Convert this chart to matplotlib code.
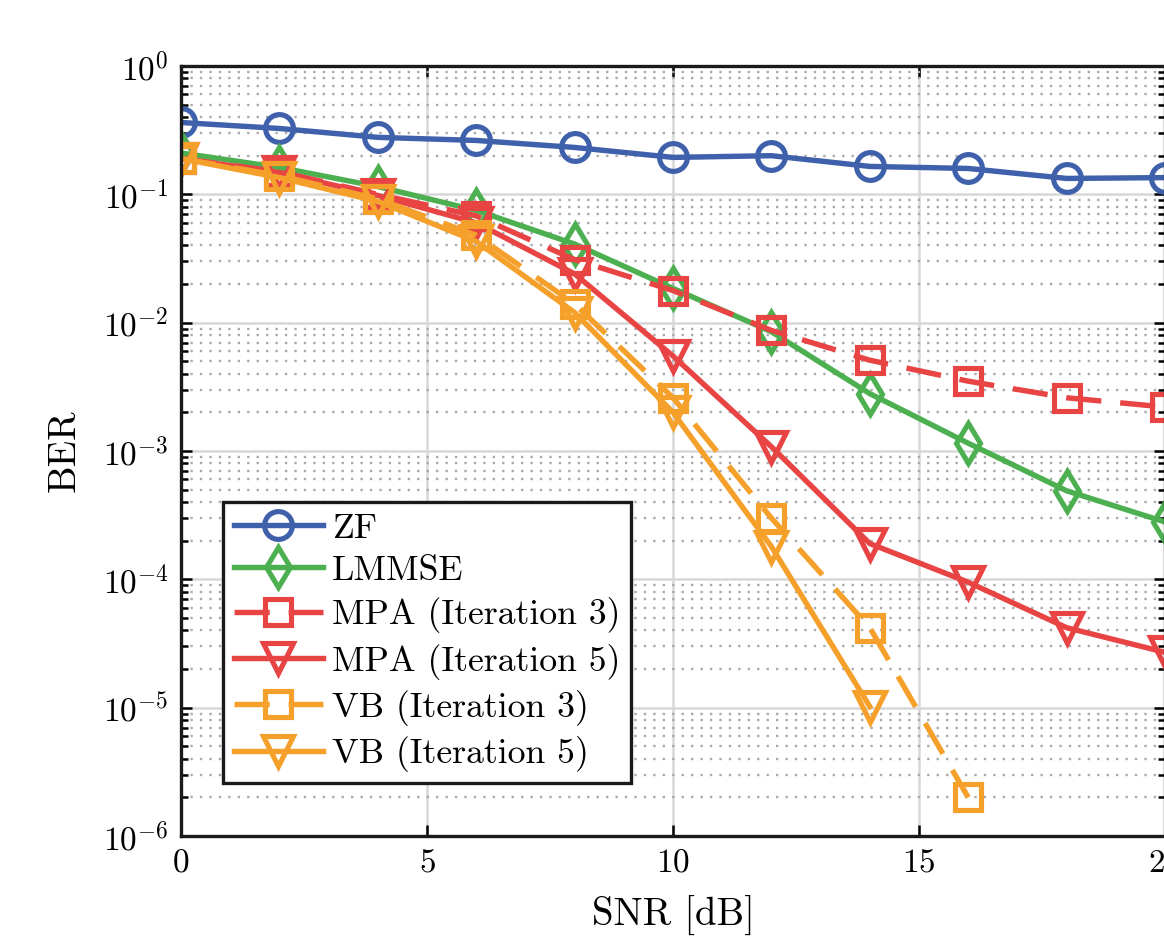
import numpy as np
import matplotlib
matplotlib.use('Agg')
import matplotlib.pyplot as plt
from matplotlib.ticker import LogLocator, NullFormatter, FixedLocator, FixedFormatter

plt.rcParams['mathtext.fontset'] = 'cm'
plt.rcParams['font.family'] = ['cmr10', 'DejaVu Serif']
plt.rcParams['axes.unicode_minus'] = False

# ---------------- data ----------------
snr = [0, 2, 4, 6, 8, 10, 12, 14, 16, 18, 20]
ber_zf = [0.363, 0.326, 0.278, 0.263, 0.232, 0.194, 0.200, 0.165, 0.159, 0.133, 0.135]
ber_lmmse = [0.21, 0.162, 0.115, 0.075, 0.041, 0.0185, 0.0085, 0.0028, 0.00115, 0.00049, 0.00028]
ber_mpa3 = [0.19, 0.15, 0.100, 0.068, 0.031, 0.0178, 0.0087, 0.0051, 0.0035, 0.0026, 0.0022]
ber_mpa5 = [0.19, 0.148, 0.098, 0.060, 0.024, 0.0055, 0.00108, 0.00019, 9.5e-5, 4.2e-5, 2.7e-5]
snr_vb3 = [0, 2, 4, 6, 8, 10, 12, 14, 16]
ber_vb3 = [0.19, 0.14, 0.092, 0.048, 0.014, 0.0026, 0.00030, 4.2e-5, 2.0e-6]
snr_vb5 = [0, 2, 4, 6, 8, 10, 12, 14]
ber_vb5 = [0.19, 0.135, 0.088, 0.043, 0.012, 0.0020, 0.00018, 1.02e-5]

labels = ['ZF', 'LMMSE', 'MPA (Iteration 3)', 'MPA (Iteration 5)',
          'VB (Iteration 3)', 'VB (Iteration 5)']
xticks = [0, 5, 10, 15, 20]
xtick_labels = ['$0$', '$5$', '$10$', '$15$', '$20$']
yticks = [1e-6, 1e-5, 1e-4, 1e-3, 1e-2, 1e-1, 1e0]
ytick_labels = ['$10^{-6}$', '$10^{-5}$', '$10^{-4}$', '$10^{-3}$',
                '$10^{-2}$', '$10^{-1}$', '$10^{0}$']

c_blue = '#3F60AA'
c_green = '#4CAF50'
c_red = '#E84444'
c_orange = '#F5A02A'

# ---------------- figure ----------------
fig = plt.figure(figsize=(11.64, 9.36), dpi=100)
ax = fig.add_axes([181 / 1164, 100 / 936, 984 / 1164, 770 / 936])

lw = 3.9
mew = 3.7
dash = (0, (6.5, 3.5))

ax.plot(snr, ber_zf, color=c_blue, lw=lw, marker='o', ms=20, mew=mew,
        mfc='none', label=labels[0])
ax.plot(snr, ber_lmmse, color=c_green, lw=lw, marker='d', ms=20, mew=mew,
        mfc='none', label=labels[1])
ax.plot(snr, ber_mpa3, color=c_red, lw=lw, ls=dash, marker='s', ms=19, mew=mew,
        mfc='none', label=labels[2])
ax.plot(snr, ber_mpa5, color=c_red, lw=lw, marker='v', ms=22, mew=mew,
        mfc='none', label=labels[3])
ax.plot(snr_vb3, ber_vb3, color=c_orange, lw=lw, ls=dash, marker='s', ms=19, mew=mew,
        mfc='none', label=labels[4])
ax.plot(snr_vb5, ber_vb5, color=c_orange, lw=lw, marker='v', ms=22, mew=mew,
        mfc='none', label=labels[5])

ax.set_yscale('log')
ax.set_xlim(0, 20)
ax.set_ylim(1e-6, 1e0)

ax.xaxis.set_major_locator(FixedLocator(xticks))
ax.xaxis.set_major_formatter(FixedFormatter(xtick_labels))
ax.yaxis.set_major_locator(FixedLocator(yticks))
ax.yaxis.set_major_formatter(FixedFormatter(ytick_labels))
ax.yaxis.set_minor_locator(LogLocator(base=10, subs=np.arange(2, 10), numticks=20))
ax.yaxis.set_minor_formatter(NullFormatter())

ax.tick_params(which='both', direction='in', top=True, right=True, labelsize=24, width=1.8)
ax.tick_params(which='major', length=8, pad=9)
ax.tick_params(which='minor', length=5)

ax.grid(which='major', color='#d8d8d8', lw=1.8, ls='-')
ax.grid(which='minor', axis='y', color='#aaaaaa', lw=1.7, ls=(0, (1, 3)))
ax.set_axisbelow(True)

for sp in ax.spines.values():
    sp.set_linewidth(2.4)
    sp.set_color('#1a1a1a')

ax.set_xlabel('SNR [dB]', fontsize=28, family='cmr10', labelpad=13)
ax.set_ylabel('BER', fontsize=28, family='cmr10', labelpad=14)

leg = ax.legend(loc='lower left', bbox_to_anchor=(223 / 1164, (936 - 783) / 936),
                bbox_transform=fig.transFigure, borderaxespad=0,
                prop={'family': 'cmr10', 'size': 25.7}, fancybox=False,
                framealpha=1, edgecolor='#1a1a1a', handlelength=2.5,
                handletextpad=0.25, labelspacing=0.29, borderpad=0.3)
leg.get_frame().set_linewidth(2.4)

fig.savefig('out.png', dpi=100, facecolor='white')
